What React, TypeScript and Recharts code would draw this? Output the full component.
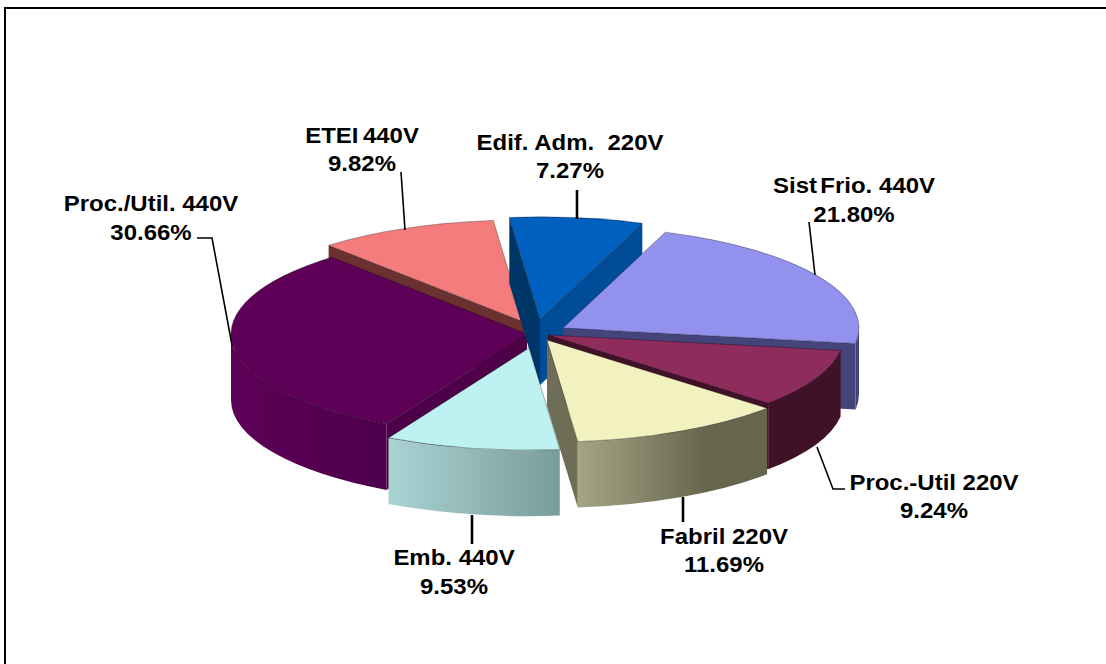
import React from "react";
import { PieChart, Pie } from "recharts";

const names = ["ETEI 440V", "Edif. Adm.  220V", "Sist Frio.  440V", "Proc.-Util 220V", "Fabril 220V", "Emb. 440V", "Proc./Util. 440V"];
const shares = [9.82, 7.27, 21.8, 9.24, 11.69, 9.53, 30.66];
const rows = names.map((name, i) => ({ name, value: shares[i] }));

const topColors = ["#F47C7C", "#0060C0", "#9292EE", "#8E2C5C", "#F2F2C0", "#BEF2F2", "#5E0058"];
const startWallColors = ["#6B3030", "#003568", "#44447A", "#401228", "#6E6E56", "#7A9C9C", "#4E0049"];
const endWallColors = ["#6B3030", "#004C98", "#44447A", "#401228", "#6E6E56", "#7A9C9C", "#42003F"];
const outerWallFrom = ["#6B3030", "#004C98", "#44447A", "#401228", "#A5A585", "#AAD3D3", "#5E0058"];
const outerWallTo = ["#6B3030", "#004C98", "#44447A", "#401228", "#66664E", "#7A9C9C", "#4C004B"];
const outerWallStop = [100, 100, 100, 100, 68, 100, 100];
const explodeX = [-16, 0, 23, 8, 7, -11, -13];
const explodeY = [-13, -16, -7, 0, 5, 13, -1];

const CX = 540;
const CY = 335;
const RADIUS = 296;
const TILT = 0.345;
const DEPTH = 66;
const BACK_LAYER = [0, 6];
const FRONT_LAYER = [1, 2, 3, 4, 5];
const TEXT_STRETCH = 1.09;

const labelAnchors = [
  { x: 362, y: 143, gap: 28, word: -2, weight: 1.6, line: "401,172 405,230" },
  { x: 570, y: 150, gap: 28, word: 0, weight: 2.6, line: "577,190 577,219" },
  { x: 854, y: 193, gap: 29, word: -3, weight: 1.6, line: "809,222 815,275" },
  { x: 934, y: 490, gap: 28, word: 0, weight: 1.6, line: "817,447 833,489 845,489" },
  { x: 724, y: 544, gap: 28, word: 0, weight: 2.6, line: "683,497 683,522" },
  { x: 454, y: 565, gap: 29, word: 0, weight: 2.6, line: "472,515 472,544" },
  { x: 151, y: 211, gap: 29, word: 0, weight: 1.6, line: "232,345 212,238 197,238" },
];

function makeShape(layer: number[]) {
  return function SliceShape(props: any) {
    const { index, cx, cy, outerRadius, startAngle, endAngle } = props;
    const i = typeof index === "number" ? index : names.indexOf(props.name);
    if (!layer.includes(i)) return <g />;
    const rx = outerRadius;
    const ry = outerRadius * TILT;
    const ax = cx + explodeX[i];
    const ay = cy + explodeY[i];
    const norm = (((90 - startAngle) % 360) + 360) % 360;
    const t0 = norm;
    const t1 = norm + (startAngle - endAngle);
    const pt = (t: number, d = 0) => {
      const r = (t * Math.PI) / 180;
      return [ax + rx * Math.sin(r), ay - ry * Math.cos(r) + d];
    };
    const f = (p: number[]) => `${p[0].toFixed(2)} ${p[1].toFixed(2)}`;
    const s0 = Math.sin((t0 * Math.PI) / 180);
    const s1 = Math.sin((t1 * Math.PI) / 180);
    const ov0 = Math.max(t0, 90);
    const ov1 = Math.min(t1, 270);
    const gid = `wall-grad-${i}`;
    const p0 = pt(ov0);
    const p1 = pt(ov1);
    const large = t1 - t0 > 180 ? 1 : 0;
    return (
      <g>
        {ov1 > ov0 && (
          <defs>
            <linearGradient id={gid} gradientUnits="userSpaceOnUse" x1={Math.min(p0[0], p1[0])} y1={0} x2={Math.max(p0[0], p1[0])} y2={0}>
              <stop offset="0%" stopColor={outerWallFrom[i]} />
              <stop offset={`${outerWallStop[i]}%`} stopColor={outerWallTo[i]} />
            </linearGradient>
          </defs>
        )}
        {s0 < 0 && (
          <path d={`M ${f([ax, ay])} L ${f(pt(t0))} L ${f(pt(t0, DEPTH))} L ${f([ax, ay + DEPTH])} Z`} fill={startWallColors[i]} />
        )}
        {s1 > 0 && (
          <path d={`M ${f([ax, ay])} L ${f(pt(t1))} L ${f(pt(t1, DEPTH))} L ${f([ax, ay + DEPTH])} Z`} fill={endWallColors[i]} />
        )}
        {ov1 > ov0 && (
          <path
            d={`M ${f(p0)} A ${rx} ${ry} 0 0 1 ${f(p1)} L ${f(pt(ov1, DEPTH))} A ${rx} ${ry} 0 0 0 ${f(pt(ov0, DEPTH))} Z`}
            fill={`url(#${gid})`}
          />
        )}
        <path
          d={`M ${f([ax, ay])} L ${f(pt(t0))} A ${rx} ${ry} 0 ${large} 1 ${f(pt(t1))} Z`}
          fill={topColors[i]}
          stroke="#000"
          strokeOpacity={0.3}
          strokeWidth={1}
        />
      </g>
    );
  };
}

function renderLabel(props: any) {
  const i = props.index;
  const a = labelAnchors[i];
  const style: React.CSSProperties = { fontFamily: "Liberation Sans", fontWeight: 700, fontSize: 22, fill: "#000", whiteSpace: "pre" };
  return (
    <g key={i}>
      <polyline points={a.line} fill="none" stroke="#000" strokeWidth={a.weight} />
      <text transform={`translate(${a.x} ${a.y}) scale(${TEXT_STRETCH} 1)`} textAnchor="middle" style={{ ...style, wordSpacing: a.word }}>{names[i]}</text>
      <text transform={`translate(${a.x} ${a.y + a.gap}) scale(${TEXT_STRETCH} 1)`} textAnchor="middle" style={style}>{shares[i].toFixed(2)}%</text>
    </g>
  );
}

const backShape = makeShape(BACK_LAYER);
const frontShape = makeShape(FRONT_LAYER);

export default function App() {
  return (
    <div style={{ position: "absolute", left: 0, top: 0, width: 1106, height: 664, background: "#fff", overflow: "hidden" }}>
      <div style={{ position: "absolute", left: 4, top: 7, width: 1102, height: 657, borderLeft: "2px solid #000", borderTop: "2px solid #000", boxSizing: "border-box" }} />
      <PieChart width={1106} height={664} margin={{ top: 0, right: 0, bottom: 0, left: 0 }}>
        <Pie
          data={rows}
          dataKey="value"
          nameKey="name"
          cx={CX}
          cy={CY}
          outerRadius={RADIUS}
          startAngle={131.3}
          endAngle={-228.7}
          paddingAngle={0}
          isAnimationActive={false}
          stroke="none"
          label={false}
          labelLine={false}
          shape={backShape}
          activeShape={backShape}
          inactiveShape={backShape}
        />
        <Pie
          data={rows}
          dataKey="value"
          nameKey="name"
          cx={CX}
          cy={CY}
          outerRadius={RADIUS}
          startAngle={131.3}
          endAngle={-228.7}
          paddingAngle={0}
          isAnimationActive={false}
          stroke="none"
          label={renderLabel}
          labelLine={false}
          shape={frontShape}
          activeShape={frontShape}
          inactiveShape={frontShape}
        />
      </PieChart>
    </div>
  );
}
